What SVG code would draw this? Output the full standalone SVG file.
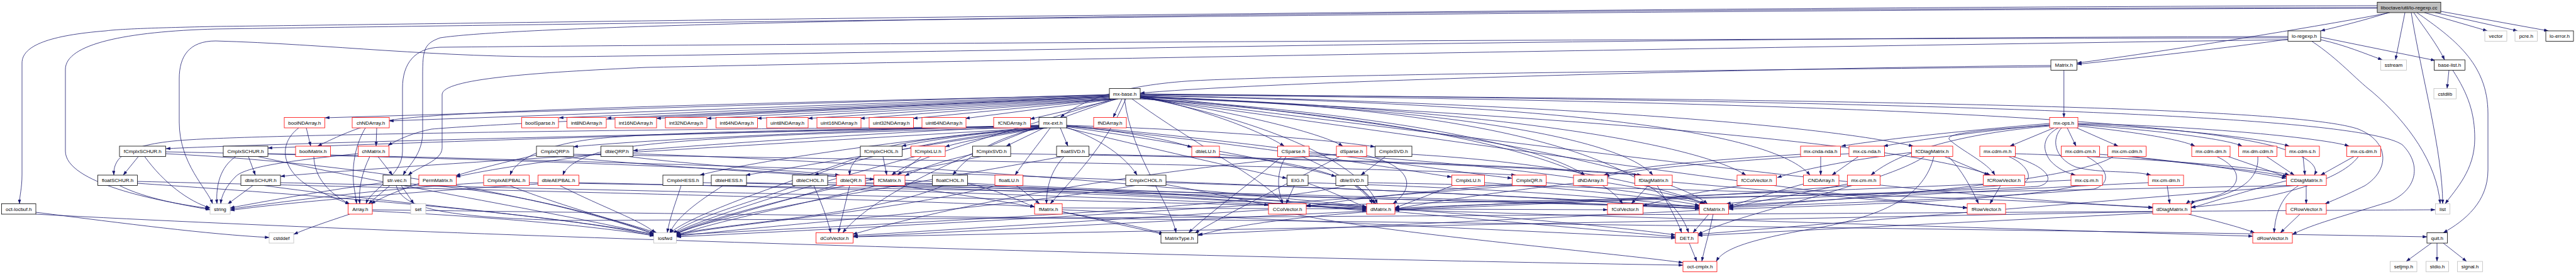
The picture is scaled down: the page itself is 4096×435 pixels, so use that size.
<svg xmlns="http://www.w3.org/2000/svg" width="4096" height="435" viewBox="0 0 4096 435">
<defs>
<marker id="a" viewBox="0 0 10 7" refX="9.5" refY="3.5" markerWidth="7.5" markerHeight="5" markerUnits="userSpaceOnUse" orient="auto"><path d="M0,0L10,3.5L0,7z" fill="#191970"/></marker>
<style>
.e path{fill:none;stroke:#191970;stroke-width:0.8;marker-end:url(#a)}
.n rect{fill:#fff;stroke-width:0.8}
.k rect{stroke:#000}
.r rect{stroke:#ff0000}
.g rect{stroke:#bfbfbf}
.n text{font-family:"Liberation Sans",Arial,Helvetica,sans-serif;font-size:8px;text-anchor:middle;fill:#000}
#n_cc rect{fill:#bfbfbf}
</style>
</defs>
<rect width="4096" height="435" fill="#fff"/>
<g id="edges" class="e">
<path d="M3798,20 C3760,32 3720,42 3690,49"/>
<path d="M3855,20 L3955,49"/>
<path d="M3872,20 L4003,49"/>
<path d="M3881,18 L4052,49"/>
<path d="M3824,20 L3809,95"/>
<path d="M3838,20 C3855,45 3875,70 3887,95"/>
<path d="M3834,20 C3850,120 3884,240 3884,323.5"/>
<path d="M3843,20 C3900,60 3956,100 3956,180 L3956,270 C3956,320 3920,350 3885,369.5"/>
<path d="M3800,20 C3700,40 3420,85 3303,100"/>
<path d="M3780,12 C2500,14 900,30 700,60 C672,70 672,80 672,130 L672,210 C672,245 650,262 641,278"/>
<path d="M3780,9 C2400,12 700,38 343,42 C250,44 190,46 168,49 C80,56 35,72 35,100 L35,277 C35,300 31,310 31,323.5"/>
<path d="M3780,13 C2400,16 800,40 343,46 C200,50 104,70 104,110 L104,240 C104,290 250,320 333,331"/>
<path d="M3640,62 C3550,75 3400,92 3303,102"/>
<path d="M3638,58 C2500,60 1400,85 900,90 C700,92 520,70 343,65 C300,65 285,90 285,125 L285,194 C285,260 330,300 338,323.5"/>
<path d="M3638,60 C2500,62 1200,70 700,75 C660,76 640,100 640,140 L640,240 C640,280 590,300 582,323.5"/>
<path d="M3640,63 C2800,75 1600,95 1028,107 C850,115 703,125 703,150 L703,235 C703,255 665,265 649,278"/>
<path d="M3690,63 C3730,72 3760,85 3788,95"/>
<path d="M3690,59 L3872,96"/>
<path d="M3676,65.5 C3720,95 3745,125 3771,145 C3830,195 3875,260 3880,323.5"/>
<path d="M3894,111.5 L3891,140.5"/>
<path d="M3900,111.5 C3925,150 3935,180 3935,220 C3935,270 3905,300 3888,323.5"/>
<path d="M3866,386 L3826,415"/>
<path d="M3875,386 L3875,415"/>
<path d="M3885,386 L3922,415"/>
<path d="M3281.75,111.5 L3281.75,186.5"/>
<path d="M3261,104 C2800,108 2000,130 1813,148"/>
<path d="M3261,106 C2700,112 2100,118 1900,128 C1780,135 1720,160 1686,186.5"/>
<path d="M3266,203 L3196,232"/>
<path d="M3287,203 L3301,232"/>
<path d="M3302,203 L3368,232"/>
<path d="M3273,203 C3250,215 3245,235 3260,255 C3272,268 3285,274 3300,278"/>
<path d="M3278,203 C3262,220 3265,250 3300,265 C3340,276 3390,270 3420,278"/>
<path d="M3259,196 C3150,205 3000,220 2928,232"/>
<path d="M3259,198 C3150,208 3050,222 2995,232"/>
<path d="M3259,200 C3120,212 3020,240 2975,278"/>
<path d="M3304,200 C3400,210 3470,222 3490,232"/>
<path d="M3304,198 C3420,206 3540,220 3565,232"/>
<path d="M3304,197 C3450,203 3600,220 3640,232"/>
<path d="M3304,196 C3500,200 3700,220 3735,232"/>
<path d="M3259,199 C3150,206 3090,212 3100,222 C3120,240 3160,258 3172,278"/>
<path d="M3194,248.5 C3225,262 3235,285 3215,291 C3100,305 2800,315 2745,323.5"/>
<path d="M3200,248.5 C3260,265 3270,290 3240,296 C3000,310 2400,320 2218,331"/>
<path d="M3204,244 C3400,250 3600,265 3640,278"/>
<path d="M3338,245 C3480,255 3590,275 3635,283"/>
<path d="M3318,248.5 C3350,265 3360,290 3330,300 C3100,320 2800,325 2749,330"/>
<path d="M3390,248.5 C3450,258 3600,270 3636,281"/>
<path d="M3360,248.5 C3300,290 2900,320 2749,328"/>
<path d="M3293,286 C3000,300 2400,320 2218,333"/>
<path d="M3305,294.5 C3200,320 2900,326 2749,332"/>
<path d="M3446,294.5 L3450,323.5"/>
<path d="M3416,290 C3200,300 2900,318 2749,326"/>
<path d="M3543,248.5 L3637,281"/>
<path d="M3525,248.5 C3570,270 3565,300 3520,312 C3500,318 3480,320 3476,323.5"/>
<path d="M3604,248.5 L3648,278"/>
<path d="M3590,248.5 C3592,280 3570,305 3500,318 C3490,320 3486,322 3484,325"/>
<path d="M3662,248.5 L3665,278"/>
<path d="M3743,248.5 L3690,278"/>
<path d="M3750,248.5 C3720,290 3600,320 3484,329"/>
<path d="M3667,294.5 L3667,323.5"/>
<path d="M3655,294.5 C3630,310 3618,335 3616,369.5"/>
<path d="M3636,287 C3580,300 3520,320 3484,330"/>
<path d="M3642,294.5 L2077,326"/>
<path d="M3650,294.5 L2700,372"/>
<path d="M3657,340 L3626,369.5"/>
<path d="M3480,340 C3520,350 3560,360 3585,369.5"/>
<path d="M3423,336 L1357,376"/>
<path d="M3423,338 L2700,374"/>
<path d="M3092,248.5 L3162,278"/>
<path d="M3098,248.5 C3120,270 3135,300 3146,323.5"/>
<path d="M3040,242 C2950,252 2860,270 2826,282"/>
<path d="M3060,248.5 C3000,290 2760,340 2700,372"/>
<path d="M3075,248.5 C3060,310 3000,340 2900,360 C2780,380 2740,395 2729,415"/>
<path d="M3181,294.5 L3164,323.5"/>
<path d="M2770,294.5 C2700,305 2650,315 2612,327"/>
<path d="M2621,294.5 L2594,323.5"/>
<path d="M2635,294.5 C2650,320 2665,345 2674,369.5"/>
<path d="M2659,289 L3128,330"/>
<path d="M2717,340 L2692,369.5"/>
<path d="M2724,340 C2718,370 2710,395 2706,415"/>
<path d="M2702,334 L1905,372"/>
<path d="M2686,386 L2698,415"/>
<path d="M2180,336 C2050,345 1950,360 1905,374"/>
<path d="M2218,336 L2664,376"/>
<path d="M2218,333 L3582,375"/>
<path d="M2173,335 L1357,376"/>
<path d="M2017,333 L1357,374"/>
<path d="M2060,340 C2200,370 2550,400 2676,417"/>
<path d="M1689,336 L1850,372"/>
<path d="M1689,333 L2664,378"/>
<path d="M1689,330 L2556,333"/>
<path d="M556,340 C520,352 490,362 467,372"/>
<path d="M592,335 C800,345 950,360 1040,374"/>
<path d="M592,333 C1500,345 3000,360 3859,376"/>
<path d="M609,290 C500,305 420,320 366,330"/>
<path d="M620,294.5 L586,323.5"/>
<path d="M638,294.5 L658,323.5"/>
<path d="M653,292 C800,300 950,340 1045,370"/>
<path d="M630,294.5 C640,330 700,345 900,350 C2000,345 3500,335 3872,333"/>
<path d="M57,337 C200,355 330,372 428,377"/>
<path d="M57,340 C800,380 2000,410 2676,421"/>
<path d="M588,248.5 C575,275 570,300 572,323.5"/>
<path d="M601,248.5 L624,278"/>
<path d="M569,244 C460,255 390,265 375,280 C360,295 352,310 351,323.5"/>
<path d="M499,248.5 C500,280 520,305 556,324"/>
<path d="M487,203 L494,232"/>
<path d="M475,203 C440,230 450,270 490,295 C520,310 540,318 556,324"/>
<path d="M599,203 L598,232"/>
<path d="M581,203 C565,230 560,260 562,290 C564,305 566,315 567,323.5"/>
<path d="M220,248.5 L196,278"/>
<path d="M230,248.5 C260,290 300,320 334,330"/>
<path d="M263.5,244 C600,260 900,320 1040,372"/>
<path d="M263.5,241 C700,250 1200,265 1390,285"/>
<path d="M190,294.5 C230,315 290,325 334,333"/>
<path d="M218.5,291 C500,310 900,340 1040,375"/>
<path d="M218.5,288 C700,300 1400,315 1645,328"/>
<path d="M395,248.5 L406,278"/>
<path d="M375,248.5 C350,265 343,295 345,323.5"/>
<path d="M426,244 C1000,255 2300,300 2702,329"/>
<path d="M410,248.5 C600,290 900,340 1040,373"/>
<path d="M402,294.5 L362,324"/>
<path d="M446,290 C900,300 1800,320 2173,330"/>
<path d="M420,294.5 C600,320 900,345 1040,372"/>
<path d="M853,246 C800,258 760,268 725,279"/>
<path d="M912,245 C1500,255 2200,265 2410,278"/>
<path d="M890,248.5 C1300,290 2200,320 2702,327"/>
<path d="M956,244 C860,258 780,268 725,281"/>
<path d="M1000,248.5 C1100,262 1250,270 1335,278"/>
<path d="M1006.5,244 C1500,260 2000,310 2173,328"/>
<path d="M670,290 C640,300 610,312 590,323.5"/>
<path d="M841.5,290 C1500,300 2300,315 2702,331"/>
<path d="M810,294.5 C900,330 1000,355 1040,371"/>
<path d="M769,290 C600,300 450,320 366,332"/>
<path d="M920.5,290 C1400,300 1900,318 2173,332"/>
<path d="M890,294.5 C960,330 1020,350 1042,370"/>
<path d="M856,292 C650,305 450,322 366,334"/>
<path d="M1083,294.5 C1075,320 1065,345 1061,369.5"/>
<path d="M1118,290 C1700,300 2400,315 2702,331"/>
<path d="M1150,294.5 C1110,320 1075,345 1065,370"/>
<path d="M1187,290 C1600,300 2000,318 2173,333"/>
<path d="M1294,294.5 C1305,320 1315,345 1321,369.5"/>
<path d="M1265,294.5 C1200,320 1100,345 1070,371"/>
<path d="M1316,290 C1700,300 2000,318 2173,335"/>
<path d="M1351,294.5 L1333,369.5"/>
<path d="M1335,292 C1250,320 1120,350 1072,373"/>
<path d="M1376,290 C1800,300 2000,315 2173,330"/>
<path d="M1430,294.5 C1600,320 1780,350 1850,371"/>
<path d="M1439,290 C2000,310 2500,350 2664,373"/>
<path d="M1395,294.5 C1250,330 1120,355 1075,375"/>
<path d="M1404,248.5 L1410,278"/>
<path d="M1370,248.5 C1250,290 1100,340 1065,370"/>
<path d="M1465,248.5 L1427,278"/>
<path d="M1455,248.5 C1300,290 1120,345 1070,371"/>
<path d="M1546,245 C1500,255 1470,265 1439,279"/>
<path d="M1607,244 C2000,250 2400,262 2605,278"/>
<path d="M1560,248.5 C1350,290 1120,345 1072,372"/>
<path d="M1692,248.5 C1672,270 1664,295 1664,323.5"/>
<path d="M1731.5,245 C2100,252 2450,263 2610,278"/>
<path d="M1690,248.5 C1400,300 1120,345 1074,372"/>
<path d="M1538.5,291 C1580,300 1620,318 1645,329"/>
<path d="M1500,294.5 C1400,340 1150,355 1075,372"/>
<path d="M1616,294.5 L1653,323.5"/>
<path d="M1585,294.5 C1400,340 1150,355 1075,374"/>
<path d="M1939,245 C2100,260 2170,290 2185,323.5"/>
<path d="M1854,293 C1920,305 1980,318 2017,326"/>
<path d="M1805,294.5 C1600,330 1200,360 1076,375"/>
<path d="M1854,290 C2200,300 2550,318 2702,332"/>
<path d="M2045,248.5 C2030,270 2030,300 2040,323.5"/>
<path d="M2038,248.5 C1990,290 1920,340 1890,369.5"/>
<path d="M2081.5,244 C2400,260 2650,300 2710,323.5"/>
<path d="M2070,248.5 C2120,270 2170,300 2182,323.5"/>
<path d="M2173,247 C2230,260 2260,290 2215,323.5"/>
<path d="M2130,248.5 C2050,290 1950,340 1900,370"/>
<path d="M2125,245 C1800,270 1500,330 1356,372"/>
<path d="M2203,248.5 L2164,278"/>
<path d="M2245,245 C2500,260 2650,300 2712,323.5"/>
<path d="M2158,294.5 L2188,323.5"/>
<path d="M2175,290 C2700,300 3200,315 3423,330"/>
<path d="M2140,294.5 C2000,330 1400,355 1076,373"/>
<path d="M2058,294.5 L2045,323.5"/>
<path d="M2080,290 C2400,300 2600,315 2702,330"/>
<path d="M2080,291 C2120,305 2150,320 2173,330"/>
<path d="M2360,290 C2500,300 2650,315 2702,326"/>
<path d="M2310,294.5 C2270,310 2240,322 2218,330"/>
<path d="M2458,290 C2580,300 2670,315 2710,323.5"/>
<path d="M2405,292 C2250,305 2130,318 2077,328"/>
<path d="M2410,294.5 C2000,330 1400,360 1076,376"/>
<path d="M2502,291 C2380,305 2280,320 2218,332"/>
<path d="M2868,292 C2820,305 2780,318 2749,328"/>
<path d="M2938,292 C2860,308 2790,320 2749,330"/>
<path d="M2945,294.5 C2700,315 2400,325 2218,334"/>
<path d="M2895,248.5 L2895,278"/>
<path d="M2863,245 C2700,255 2600,265 2550,278"/>
<path d="M2955,248.5 L2913,278"/>
<path d="M2940,244 C2750,255 2600,268 2552,280"/>
<path d="M1764,150 L517,187"/>
<path d="M1764,151 L619,192"/>
<path d="M1764,152 L889,187"/>
<path d="M1764,153 L965,187.5"/>
<path d="M1764,154 L1044,188"/>
<path d="M1765,155 L1124,188"/>
<path d="M1766,156 L1204,188"/>
<path d="M1768,157 L1285,188"/>
<path d="M1770,157 L1368,188"/>
<path d="M1772,157 L1452,188"/>
<path d="M1775,157 L1535,188"/>
<path d="M1778,157 L1638,189"/>
<path d="M1784,157 L1770,186.5"/>
<path d="M1764,151 C900,170 650,180 600,195 C560,205 530,220 505,232"/>
<path d="M1764,153 C1200,180 800,195 686,205 C660,210 635,220 617,231"/>
<path d="M1770,157 C1600,210 1450,250 1418,278"/>
<path d="M1790,157 C1760,230 1700,290 1670,323.5"/>
<path d="M1813,155 C1950,175 2100,210 2135,232"/>
<path d="M1813,152 C1900,170 2000,205 2042,232"/>
<path d="M1813,154 C2050,200 2170,270 2190,323.5"/>
<path d="M1813,152 C2300,200 2650,270 2715,323.5"/>
<path d="M1800,157 C1900,230 2020,290 2040,323.5"/>
<path d="M1775,157 C1500,250 1380,320 1340,369.5"/>
<path d="M1788,157 C1800,250 1860,320 1870,369.5"/>
<path d="M1813,156 C2200,180 2450,230 2520,278"/>
<path d="M1813,155 C2300,170 2580,220 2628,278"/>
<path d="M1813,157 C2300,190 2540,260 2580,323.5"/>
<path d="M1813,154 C2400,170 2650,260 2685,369.5"/>
<path d="M1813,153 C2400,175 2700,230 2776,278"/>
<path d="M1813,152 C2500,165 2820,210 2878,278"/>
<path d="M1813,151 C2500,165 2900,200 3042,232"/>
<path d="M1813,155 C2500,250 2900,310 3128,330"/>
<path d="M1813,154 C2600,250 3100,315 3423,329"/>
<path d="M1813,150 C2800,160 3500,185 3640,240 C3680,255 3685,268 3680,278"/>
<path d="M1813,150 C3000,158 3650,170 3750,205 C3800,225 3800,270 3760,295 C3730,310 3710,318 3697,323.5"/>
<path d="M1813,149 C3000,160 3750,180 3820,230 C3850,260 3845,300 3800,320 C3720,345 3680,355 3645,372"/>
<path d="M1813,153 C2600,190 3050,235 3165,278"/>
<path d="M1652,200 C1200,210 500,225 264,236"/>
<path d="M1652,199 C1200,208 700,225 426,235"/>
<path d="M1652,201 C1000,205 420,214 300,222 C200,228 180,250 181,278"/>
<path d="M1652,203 C1200,230 600,265 446,280"/>
<path d="M1652,199 C1400,205 1050,220 912,233"/>
<path d="M1652,200 C1400,210 1150,228 1007,239"/>
<path d="M1652,201 C1300,205 1050,210 950,220 C860,230 820,255 811,278"/>
<path d="M1652,202 C1300,210 1050,220 960,240 C920,250 900,265 895,278"/>
<path d="M1652,202 C1450,220 1200,255 1113,278"/>
<path d="M1655,203 C1500,225 1300,260 1186,278"/>
<path d="M1660,203 C1500,220 1380,245 1295,278"/>
<path d="M1665,203 C1500,215 1380,230 1360,255 C1352,265 1351,270 1351,278"/>
<path d="M1660,203 C1550,212 1480,222 1434,232"/>
<path d="M1665,203 C1600,212 1540,222 1503,233"/>
<path d="M1660,203 L1600,232"/>
<path d="M1686,203 L1698,232"/>
<path d="M1652,203 C1580,220 1540,245 1515,278"/>
<path d="M1670,203 C1650,230 1630,255 1614,278"/>
<path d="M1695.5,200 C1800,210 1860,222 1895,234"/>
<path d="M1695,202 C1750,220 1790,250 1808,278"/>
<path d="M1695,203 C1850,240 1980,270 2046,283"/>
<path d="M1695,201 C1900,230 2050,260 2124,280"/>
<path d="M1695,199 C1900,205 2100,220 2186,233"/>
<path d="M1695,200 C2000,230 2200,265 2308,281"/>
<path d="M1695,199 C2000,225 2250,265 2404,283"/>
</g>
<g id="n_cc" class="n k"><rect x="3780" y="3.5" width="101" height="16.5"/><text x="3830.5" y="14.7">liboctave/util/lo-regexp.cc</text></g>
<g id="n_lrh" class="n k"><rect x="3638" y="49" width="52" height="16.5"/><text x="3664" y="60.2">lo-regexp.h</text></g>
<g id="n_vector" class="n g"><rect x="3951" y="49" width="35" height="16.5"/><text x="3968.5" y="60.2">vector</text></g>
<g id="n_pcre" class="n g"><rect x="3999" y="49" width="35.5" height="16.5"/><text x="4016.75" y="60.2">pcre.h</text></g>
<g id="n_loerr" class="n k"><rect x="4048" y="49" width="44" height="16.5"/><text x="4070" y="60.2">lo-error.h</text></g>
<g id="n_matrix" class="n k"><rect x="3261" y="95" width="41.5" height="16.5"/><text x="3281.75" y="106.2">Matrix.h</text></g>
<g id="n_sstream" class="n g"><rect x="3785.5" y="95" width="41" height="16.5"/><text x="3806" y="106.2">sstream</text></g>
<g id="n_baselist" class="n k"><rect x="3870.5" y="95" width="49" height="16.5"/><text x="3895" y="106.2">base-list.h</text></g>
<g id="n_mxbase" class="n k"><rect x="1764" y="140.5" width="49" height="16.5"/><text x="1788.5" y="151.7">mx-base.h</text></g>
<g id="n_cstdlib" class="n g"><rect x="3870" y="140.5" width="35.5" height="16.5"/><text x="3887.75" y="151.7">cstdlib</text></g>
<g id="n_boolNDArray" class="n r"><rect x="452" y="186.5" width="64.5" height="16.5"/><text x="484.25" y="197.7">boolNDArray.h</text></g>
<g id="n_chNDArray" class="n r"><rect x="560" y="186.5" width="59" height="16.5"/><text x="589.5" y="197.7">chNDArray.h</text></g>
<g id="n_boolSparse" class="n r"><rect x="829.5" y="186.5" width="58.5" height="16.5"/><text x="858.75" y="197.7">boolSparse.h</text></g>
<g id="n_int8" class="n r"><rect x="901.5" y="186.5" width="62.5" height="16.5"/><text x="932.75" y="197.7">int8NDArray.h</text></g>
<g id="n_int16" class="n r"><rect x="978" y="186.5" width="66" height="16.5"/><text x="1011" y="197.7">int16NDArray.h</text></g>
<g id="n_int32" class="n r"><rect x="1058" y="186.5" width="66" height="16.5"/><text x="1091" y="197.7">int32NDArray.h</text></g>
<g id="n_int64" class="n r"><rect x="1138.5" y="186.5" width="66" height="16.5"/><text x="1171.5" y="197.7">int64NDArray.h</text></g>
<g id="n_uint8" class="n r"><rect x="1219" y="186.5" width="66" height="16.5"/><text x="1252" y="197.7">uint8NDArray.h</text></g>
<g id="n_uint16" class="n r"><rect x="1299" y="186.5" width="70" height="16.5"/><text x="1334" y="197.7">uint16NDArray.h</text></g>
<g id="n_uint32" class="n r"><rect x="1382" y="186.5" width="70.5" height="16.5"/><text x="1417.25" y="197.7">uint32NDArray.h</text></g>
<g id="n_uint64" class="n r"><rect x="1466" y="186.5" width="70" height="16.5"/><text x="1501" y="197.7">uint64NDArray.h</text></g>
<g id="n_fCNDArray" class="n r"><rect x="1580" y="186.5" width="58.5" height="16.5"/><text x="1609.25" y="197.7">fCNDArray.h</text></g>
<g id="n_mxext" class="n k"><rect x="1652" y="186.5" width="44" height="16.5"/><text x="1674" y="197.7">mx-ext.h</text></g>
<g id="n_fNDArray" class="n r"><rect x="1739" y="186.5" width="52" height="16.5"/><text x="1765" y="197.7">fNDArray.h</text></g>
<g id="n_mxops" class="n r"><rect x="3259" y="186.5" width="45" height="16.5"/><text x="3281.5" y="197.7">mx-ops.h</text></g>
<g id="n_fCmplxSCHUR" class="n k"><rect x="190" y="232" width="73.5" height="16.5"/><text x="226.75" y="243.2">fCmplxSCHUR.h</text></g>
<g id="n_CmplxSCHUR" class="n k"><rect x="355" y="232" width="71" height="16.5"/><text x="390.5" y="243.2">CmplxSCHUR.h</text></g>
<g id="n_boolMatrix" class="n r"><rect x="470" y="232" width="55.5" height="16.5"/><text x="497.75" y="243.2">boolMatrix.h</text></g>
<g id="n_chMatrix" class="n r"><rect x="569.5" y="232" width="49" height="16.5"/><text x="594" y="243.2">chMatrix.h</text></g>
<g id="n_CmplxQRP" class="n k"><rect x="853" y="232" width="59" height="16.5"/><text x="882.5" y="243.2">CmplxQRP.h</text></g>
<g id="n_dbleQRP" class="n k"><rect x="955.5" y="232" width="51" height="16.5"/><text x="981" y="243.2">dbleQRP.h</text></g>
<g id="n_fCmplxCHOL" class="n k"><rect x="1368" y="232" width="66.5" height="16.5"/><text x="1401.25" y="243.2">fCmplxCHOL.h</text></g>
<g id="n_fCmplxLU" class="n r"><rect x="1448.5" y="232" width="54.5" height="16.5"/><text x="1475.75" y="243.2">fCmplxLU.h</text></g>
<g id="n_fCmplxSVD" class="n k"><rect x="1546.5" y="232" width="60.5" height="16.5"/><text x="1576.75" y="243.2">fCmplxSVD.h</text></g>
<g id="n_floatSVD" class="n k"><rect x="1680" y="232" width="51.5" height="16.5"/><text x="1705.75" y="243.2">floatSVD.h</text></g>
<g id="n_dbleLU" class="n r"><rect x="1895" y="232" width="44" height="16.5"/><text x="1917" y="243.2">dbleLU.h</text></g>
<g id="n_CSparse" class="n r"><rect x="2031.5" y="232" width="50" height="16.5"/><text x="2056.5" y="243.2">CSparse.h</text></g>
<g id="n_dSparse" class="n r"><rect x="2125" y="232" width="48" height="16.5"/><text x="2149" y="243.2">dSparse.h</text></g>
<g id="n_CmplxSVD" class="n k"><rect x="2186.5" y="232" width="58.5" height="16.5"/><text x="2215.75" y="243.2">CmplxSVD.h</text></g>
<g id="n_mxcndanda" class="n r"><rect x="2863" y="232" width="63.5" height="16.5"/><text x="2894.75" y="243.2">mx-cnda-nda.h</text></g>
<g id="n_mxcsnda" class="n r"><rect x="2940" y="232" width="56.5" height="16.5"/><text x="2968.25" y="243.2">mx-cs-nda.h</text></g>
<g id="n_fCDiagMatrix" class="n r"><rect x="3039.5" y="232" width="65.5" height="16.5"/><text x="3072.25" y="243.2">fCDiagMatrix.h</text></g>
<g id="n_mxcdmm" class="n r"><rect x="3148" y="232" width="56.5" height="16.5"/><text x="3176.25" y="243.2">mx-cdm-m.h</text></g>
<g id="n_mxcdmcm" class="n r"><rect x="3277.5" y="232" width="61" height="16.5"/><text x="3308" y="243.2">mx-cdm-cm.h</text></g>
<g id="n_mxcmcdm" class="n r"><rect x="3351.5" y="232" width="61" height="16.5"/><text x="3382" y="243.2">mx-cm-cdm.h</text></g>
<g id="n_mxcdmdm" class="n r"><rect x="3485" y="232" width="61" height="16.5"/><text x="3515.5" y="243.2">mx-cdm-dm.h</text></g>
<g id="n_mxdmcdm" class="n r"><rect x="3559.5" y="232" width="61" height="16.5"/><text x="3590" y="243.2">mx-dm-cdm.h</text></g>
<g id="n_mxcdms" class="n r"><rect x="3634" y="232" width="54" height="16.5"/><text x="3661" y="243.2">mx-cdm-s.h</text></g>
<g id="n_mxcsdm" class="n r"><rect x="3731.5" y="232" width="54" height="16.5"/><text x="3758.5" y="243.2">mx-cs-dm.h</text></g>
<g id="n_floatSCHUR" class="n k"><rect x="155.5" y="278" width="63" height="16.5"/><text x="187" y="289.2">floatSCHUR.h</text></g>
<g id="n_dbleSCHUR" class="n k"><rect x="383" y="278" width="63" height="16.5"/><text x="414.5" y="289.2">dbleSCHUR.h</text></g>
<g id="n_strvec" class="n k"><rect x="609" y="278" width="44" height="16.5"/><text x="631" y="289.2">str-vec.h</text></g>
<g id="n_PermMatrix" class="n r"><rect x="666" y="278" width="59.5" height="16.5"/><text x="695.75" y="289.2">PermMatrix.h</text></g>
<g id="n_CmplxAEPBAL" class="n r"><rect x="769" y="278" width="72.5" height="16.5"/><text x="805.25" y="289.2">CmplxAEPBAL.h</text></g>
<g id="n_dbleAEPBAL" class="n r"><rect x="855.5" y="278" width="65" height="16.5"/><text x="888" y="289.2">dbleAEPBAL.h</text></g>
<g id="n_CmplxHESS" class="n k"><rect x="1054" y="278" width="64" height="16.5"/><text x="1086" y="289.2">CmplxHESS.h</text></g>
<g id="n_dbleHESS" class="n k"><rect x="1131" y="278" width="56" height="16.5"/><text x="1159" y="289.2">dbleHESS.h</text></g>
<g id="n_dbleCHOL" class="n k"><rect x="1260" y="278" width="56" height="16.5"/><text x="1288" y="289.2">dbleCHOL.h</text></g>
<g id="n_dbleQR" class="n r"><rect x="1330" y="278" width="46" height="16.5"/><text x="1353" y="289.2">dbleQR.h</text></g>
<g id="n_fCMatrix" class="n r"><rect x="1389.5" y="278" width="49.5" height="16.5"/><text x="1414.25" y="289.2">fCMatrix.h</text></g>
<g id="n_floatCHOL" class="n k"><rect x="1482.5" y="278" width="56" height="16.5"/><text x="1510.5" y="289.2">floatCHOL.h</text></g>
<g id="n_floatLU" class="n r"><rect x="1582" y="278" width="44.5" height="16.5"/><text x="1604.25" y="289.2">floatLU.h</text></g>
<g id="n_CmplxCHOL" class="n k"><rect x="1790" y="278" width="64" height="16.5"/><text x="1822" y="289.2">CmplxCHOL.h</text></g>
<g id="n_EIG" class="n k"><rect x="2046.5" y="278" width="33.5" height="16.5"/><text x="2063.25" y="289.2">EIG.h</text></g>
<g id="n_dbleSVD" class="n k"><rect x="2124" y="278" width="51" height="16.5"/><text x="2149.5" y="289.2">dbleSVD.h</text></g>
<g id="n_CmplxLU" class="n r"><rect x="2308.5" y="278" width="52" height="16.5"/><text x="2334.5" y="289.2">CmplxLU.h</text></g>
<g id="n_CmplxQR" class="n r"><rect x="2404.5" y="278" width="54" height="16.5"/><text x="2431.5" y="289.2">CmplxQR.h</text></g>
<g id="n_dNDArray" class="n r"><rect x="2502" y="278" width="54" height="16.5"/><text x="2529" y="289.2">dNDArray.h</text></g>
<g id="n_fDiagMatrix" class="n r"><rect x="2599.5" y="278" width="59.5" height="16.5"/><text x="2629.25" y="289.2">fDiagMatrix.h</text></g>
<g id="n_fCColVector" class="n r"><rect x="2762" y="278" width="62.5" height="16.5"/><text x="2793.25" y="289.2">fCColVector.h</text></g>
<g id="n_CNDArray" class="n r"><rect x="2867.5" y="278" width="56.5" height="16.5"/><text x="2895.75" y="289.2">CNDArray.h</text></g>
<g id="n_mxcmm" class="n r"><rect x="2937.5" y="278" width="52" height="16.5"/><text x="2963.5" y="289.2">mx-cm-m.h</text></g>
<g id="n_fCRowVector" class="n r"><rect x="3153.5" y="278" width="66" height="16.5"/><text x="3186.5" y="289.2">fCRowVector.h</text></g>
<g id="n_mxcsm" class="n r"><rect x="3293" y="278" width="50" height="16.5"/><text x="3318" y="289.2">mx-cs-m.h</text></g>
<g id="n_mxcmdm" class="n r"><rect x="3416" y="278" width="56" height="16.5"/><text x="3444" y="289.2">mx-cm-dm.h</text></g>
<g id="n_CDiagMatrix" class="n r"><rect x="3635.5" y="278" width="63.5" height="16.5"/><text x="3667.25" y="289.2">CDiagMatrix.h</text></g>
<g id="n_octlocbuf" class="n k"><rect x="2.5" y="323.5" width="54.5" height="16.5"/><text x="29.75" y="334.7">oct-locbuf.h</text></g>
<g id="n_string" class="n g"><rect x="334" y="323.5" width="32" height="16.5"/><text x="350" y="334.7">string</text></g>
<g id="n_Array" class="n r"><rect x="553.5" y="323.5" width="38.5" height="16.5"/><text x="572.75" y="334.7">Array.h</text></g>
<g id="n_set" class="n g"><rect x="653" y="323.5" width="24" height="16.5"/><text x="665" y="334.7">set</text></g>
<g id="n_fMatrix" class="n r"><rect x="1645" y="323.5" width="44" height="16.5"/><text x="1667" y="334.7">fMatrix.h</text></g>
<g id="n_CColVector" class="n r"><rect x="2017" y="323.5" width="60" height="16.5"/><text x="2047" y="334.7">CColVector.h</text></g>
<g id="n_dMatrix" class="n r"><rect x="2173" y="323.5" width="45" height="16.5"/><text x="2195.5" y="334.7">dMatrix.h</text></g>
<g id="n_fColVector" class="n r"><rect x="2556" y="323.5" width="56.5" height="16.5"/><text x="2584.25" y="334.7">fColVector.h</text></g>
<g id="n_CMatrix" class="n r"><rect x="2702" y="323.5" width="46.5" height="16.5"/><text x="2725.25" y="334.7">CMatrix.h</text></g>
<g id="n_fRowVector" class="n r"><rect x="3128" y="323.5" width="61" height="16.5"/><text x="3158.5" y="334.7">fRowVector.h</text></g>
<g id="n_dDiagMatrix" class="n r"><rect x="3423" y="323.5" width="61" height="16.5"/><text x="3453.5" y="334.7">dDiagMatrix.h</text></g>
<g id="n_CRowVector" class="n r"><rect x="3635" y="323.5" width="64" height="16.5"/><text x="3667" y="334.7">CRowVector.h</text></g>
<g id="n_list" class="n g"><rect x="3872.5" y="323.5" width="23" height="16.5"/><text x="3884" y="334.7">list</text></g>
<g id="n_cstddef" class="n g"><rect x="428" y="369.5" width="39" height="16.5"/><text x="447.5" y="380.7">cstddef</text></g>
<g id="n_iosfwd" class="n g"><rect x="1039.5" y="369.5" width="36" height="16.5"/><text x="1057.5" y="380.7">iosfwd</text></g>
<g id="n_dColVector" class="n r"><rect x="1297.5" y="369.5" width="59" height="16.5"/><text x="1327" y="380.7">dColVector.h</text></g>
<g id="n_MatrixType" class="n k"><rect x="1846" y="369.5" width="58.5" height="16.5"/><text x="1875.25" y="380.7">MatrixType.h</text></g>
<g id="n_DET" class="n r"><rect x="2664" y="369.5" width="36" height="16.5"/><text x="2682" y="380.7">DET.h</text></g>
<g id="n_dRowVector" class="n r"><rect x="3582" y="369.5" width="63" height="16.5"/><text x="3613.5" y="380.7">dRowVector.h</text></g>
<g id="n_quit" class="n k"><rect x="3859" y="369.5" width="32.5" height="16.5"/><text x="3875.25" y="380.7">quit.h</text></g>
<g id="n_octcmplx" class="n r"><rect x="2676" y="415" width="54" height="16.5"/><text x="2703" y="426.2">oct-cmplx.h</text></g>
<g id="n_setjmp" class="n g"><rect x="3800.5" y="415" width="42.5" height="16.5"/><text x="3821.75" y="426.2">setjmp.h</text></g>
<g id="n_stdio" class="n g"><rect x="3857.5" y="415" width="36" height="16.5"/><text x="3875.5" y="426.2">stdio.h</text></g>
<g id="n_signal" class="n g"><rect x="3907.5" y="415" width="40" height="16.5"/><text x="3927.5" y="426.2">signal.h</text></g>
</svg>
